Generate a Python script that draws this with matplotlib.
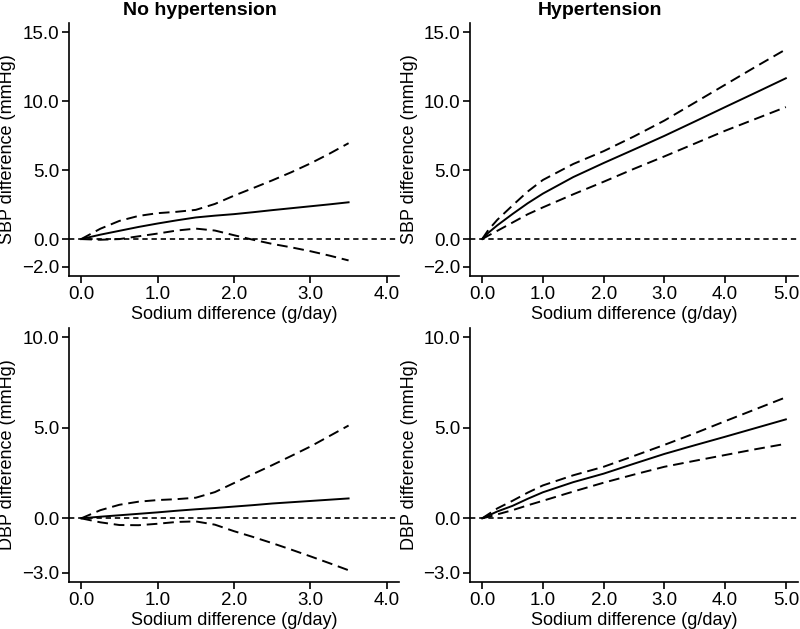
import matplotlib
matplotlib.use("Agg")
import matplotlib.pyplot as plt

plt.rcParams["font.family"] = ["Liberation Sans", "DejaVu Sans"]

# Sodium difference (g/day) at which values were read
x_nohtn = [0.0, 0.25, 0.5, 0.75, 1.0, 1.25, 1.5, 1.75, 2.0, 2.25, 2.5, 2.75, 3.0, 3.25, 3.5]
x_htn = [0.0, 0.1, 0.25, 0.5, 0.75, 1.0, 1.5, 2.0, 2.5, 3.0, 3.5, 4.0, 4.5, 5.0]

# SBP, no hypertension
sbp_nohtn = [0.0, 0.32, 0.6, 0.88, 1.13, 1.36, 1.57, 1.70, 1.81, 1.95, 2.10, 2.24, 2.38, 2.52, 2.67]
sbp_nohtn_hi = [0.0, 0.75, 1.32, 1.68, 1.88, 1.98, 2.12, 2.55, 3.15, 3.7, 4.26, 4.85, 5.49, 6.2, 6.96]
sbp_nohtn_lo = [0.0, -0.05, 0.0, 0.2, 0.4, 0.62, 0.76, 0.62, 0.28, -0.05, -0.35, -0.6, -0.88, -1.2, -1.55]

# SBP, hypertension
sbp_htn = [0.0, 0.45, 1.0, 1.82, 2.6, 3.3, 4.5, 5.52, 6.5, 7.49, 8.53, 9.58, 10.62, 11.67]
sbp_htn_hi = [0.0, 0.65, 1.4, 2.44, 3.45, 4.29, 5.45, 6.38, 7.45, 8.6, 9.9, 11.2, 12.5, 13.77]
sbp_htn_lo = [0.0, 0.25, 0.6, 1.2, 1.8, 2.3, 3.25, 4.16, 5.1, 6.0, 6.93, 7.86, 8.72, 9.58]

# DBP, no hypertension
dbp_nohtn = [0.0, 0.09, 0.17, 0.25, 0.33, 0.42, 0.5, 0.57, 0.65, 0.73, 0.82, 0.89, 0.96, 1.03, 1.1]
dbp_nohtn_hi = [0.0, 0.45, 0.75, 0.92, 1.01, 1.06, 1.14, 1.45, 1.95, 2.45, 2.94, 3.45, 3.97, 4.55, 5.13]
dbp_nohtn_lo = [0.0, -0.22, -0.37, -0.38, -0.3, -0.2, -0.17, -0.35, -0.71, -1.03, -1.37, -1.73, -2.1, -2.48, -2.87]

# DBP, hypertension
dbp_htn = [0.0, 0.15, 0.38, 0.69, 1.08, 1.44, 2.0, 2.47, 3.02, 3.56, 4.04, 4.51, 4.99, 5.47]
dbp_htn_hi = [0.0, 0.22, 0.55, 0.97, 1.42, 1.82, 2.38, 2.85, 3.45, 4.06, 4.7, 5.37, 6.03, 6.69]
dbp_htn_lo = [0.0, 0.08, 0.22, 0.45, 0.72, 0.97, 1.48, 1.97, 2.42, 2.85, 3.18, 3.5, 3.82, 4.12]

col_titles = ["No hypertension", "Hypertension"]
xticks_nohtn = [0.0, 1.0, 2.0, 3.0, 4.0]
xticks_htn = [0.0, 1.0, 2.0, 3.0, 4.0, 5.0]
yticks_sbp = [-2.0, 0.0, 5.0, 10.0, 15.0]
yticks_dbp = [-3.0, 0.0, 5.0, 10.0]

fig = plt.figure(figsize=(8, 6.29), dpi=100)

panels = [
    # rect, x, est, hi, lo, xticks, yticks, ylabel
    ([0.08625, 0.5612, 0.4125, 0.4022], x_nohtn, sbp_nohtn, sbp_nohtn_hi, sbp_nohtn_lo,
     xticks_nohtn, yticks_sbp, "SBP difference (mmHg)"),
    ([0.5875, 0.5612, 0.41, 0.4022], x_htn, sbp_htn, sbp_htn_hi, sbp_htn_lo,
     xticks_htn, yticks_sbp, "SBP difference (mmHg)"),
    ([0.08625, 0.0747, 0.4125, 0.4038], x_nohtn, dbp_nohtn, dbp_nohtn_hi, dbp_nohtn_lo,
     xticks_nohtn, yticks_dbp, "DBP difference (mmHg)"),
    ([0.5875, 0.0747, 0.41, 0.4038], x_htn, dbp_htn, dbp_htn_hi, dbp_htn_lo,
     xticks_htn, yticks_dbp, "DBP difference (mmHg)"),
]

for rect, x, est, hi, lo, xt, yt, ylab in panels:
    ax = fig.add_axes(rect)
    ax.axhline(0, color="black", lw=1.2, linestyle=(0, (3.2, 2.3)))
    ax.plot(x, hi, color="black", lw=1.4, linestyle=(0, (5.5, 3.0)))
    ax.plot(x, lo, color="black", lw=1.4, linestyle=(0, (5.5, 3.0)))
    ax.plot(x, est, color="black", lw=1.4)

    # R style 4% padding around the tick range
    xr = xt[-1] - xt[0]
    yr = yt[-1] - yt[0]
    ax.set_xlim(xt[0] - 0.04 * xr, xt[-1] + 0.04 * xr)
    ax.set_ylim(yt[0] - 0.04 * yr, yt[-1] + 0.04 * yr)
    ax.set_xticks(xt)
    ax.set_yticks(yt)
    ax.set_xticklabels([f"{v:.1f}" for v in xt])
    ax.set_yticklabels([f"{v:.1f}".replace("-", "\u2212") for v in yt])

    for s in ["top", "right"]:
        ax.spines[s].set_visible(False)
    for s in ["left", "bottom"]:
        ax.spines[s].set_linewidth(1.2)
    ax.tick_params(axis="both", length=5, width=1.2, labelsize=13.5, colors="black")
    ax.tick_params(axis="x", pad=2.5)
    ax.tick_params(axis="y", pad=2)

    ax.set_xlabel("Sodium difference (g/day)", fontsize=13)
    ax.set_ylabel(ylab, fontsize=13)
    ax.xaxis.label.set_va("top")
    ax.xaxis.set_label_coords(0.5, -0.12)
    ax.yaxis.set_label_coords(-0.16, 0.5)

fig.text(0.25, 0.983, col_titles[0], ha="center", va="center", fontsize=14, fontweight="bold")
fig.text(0.75, 0.983, col_titles[1], ha="center", va="center", fontsize=14, fontweight="bold")

fig.savefig("out.png", dpi=100)
